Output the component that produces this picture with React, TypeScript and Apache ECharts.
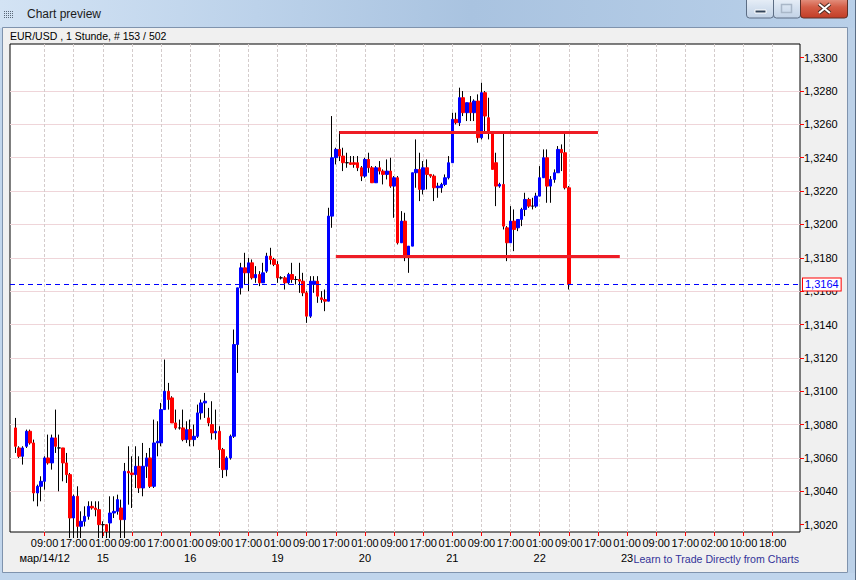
import React, { useEffect, useRef } from "react";
import * as echarts from "echarts";

// ---------- data (EUR/USD, 1 hour candles) ----------
const OPEN = [
  1.3078, 1.3066, 1.3061, 1.3067, 1.3076, 1.3069, 1.3039, 1.3043, 1.3046, 1.306,
  1.3057, 1.3072, 1.3066, 1.3066, 1.3057, 1.305, 1.3024, 1.3037, 1.3019, 1.3022,
  1.3025, 1.3031, 1.303, 1.3029, 1.302, 1.302, 1.3021, 1.3027, 1.3028, 1.303,
  1.3023, 1.3052, 1.3051, 1.305, 1.3055, 1.3042, 1.3055, 1.306, 1.3043, 1.3069,
  1.3069, 1.3089, 1.31, 1.3096, 1.3081, 1.3078, 1.3078, 1.3071, 1.3077, 1.3071,
  1.3073, 1.3087, 1.3093, 1.3084, 1.308, 1.3075, 1.3076, 1.3065, 1.3053, 1.306,
  1.3073, 1.3128, 1.3162, 1.3174, 1.3171, 1.3177, 1.3168, 1.317, 1.3165, 1.3172,
  1.3181, 1.3179, 1.3176, 1.3168, 1.3168, 1.3165, 1.317, 1.3167, 1.3167, 1.3166,
  1.3159, 1.3145, 1.3164, 1.3166, 1.3156, 1.3155, 1.3154, 1.3205, 1.324, 1.3245,
  1.3241, 1.3237, 1.3237, 1.3237, 1.3237, 1.3234, 1.3229, 1.3239, 1.3234, 1.3225,
  1.3234, 1.3232, 1.323, 1.3232, 1.3223, 1.3228, 1.3189, 1.3202, 1.3181, 1.3187,
  1.3231, 1.3233, 1.3221, 1.3234, 1.323, 1.3229, 1.3222, 1.3222, 1.3224, 1.3228,
  1.3237, 1.3263, 1.3261, 1.3276, 1.3267, 1.3273, 1.3267, 1.3274, 1.3252, 1.3279,
  1.3264, 1.3255, 1.3237, 1.3223, 1.3224, 1.3198, 1.3189, 1.3202, 1.3198, 1.3203,
  1.3209, 1.3215, 1.3211, 1.3211, 1.3217, 1.3228, 1.324, 1.3223, 1.3227, 1.3231,
  1.3245, 1.3243, 1.3222,
];
const CLOSE = [
  1.3067, 1.3061, 1.3066, 1.3076, 1.3069, 1.3039, 1.3043, 1.3046, 1.306, 1.3057,
  1.3072, 1.3067, 1.3066, 1.3057, 1.305, 1.3024, 1.3037, 1.3019, 1.3022, 1.3025,
  1.3031, 1.303, 1.3029, 1.302, 1.302, 1.3016, 1.3027, 1.3028, 1.3035, 1.3023,
  1.3052, 1.3051, 1.305, 1.3055, 1.3042, 1.3055, 1.306, 1.3043, 1.3069, 1.307,
  1.3089, 1.31, 1.3095, 1.3081, 1.3078, 1.3078, 1.3071, 1.3077, 1.3071, 1.3073,
  1.3087, 1.3093, 1.3094, 1.3081, 1.3075, 1.3076, 1.3065, 1.3053, 1.306, 1.3073,
  1.3128, 1.3162, 1.3174, 1.3171, 1.3177, 1.3168, 1.317, 1.3165, 1.3171, 1.3181,
  1.3179, 1.3176, 1.3168, 1.3168, 1.3165, 1.317, 1.3167, 1.3167, 1.3166, 1.3159,
  1.3145, 1.3166, 1.3166, 1.3157, 1.3155, 1.3154, 1.3205, 1.324, 1.3245, 1.3241,
  1.3237, 1.3237, 1.3236, 1.3236, 1.3234, 1.3229, 1.3239, 1.3234, 1.3225, 1.3234,
  1.3232, 1.323, 1.3232, 1.3223, 1.3228, 1.3189, 1.3202, 1.3181, 1.3187, 1.3231,
  1.3233, 1.3221, 1.3234, 1.323, 1.3229, 1.3222, 1.3223, 1.3224, 1.3228, 1.3237,
  1.3263, 1.3261, 1.3276, 1.3267, 1.3273, 1.3267, 1.3274, 1.3252, 1.3279, 1.3265,
  1.3255, 1.3233, 1.3223, 1.3224, 1.3199, 1.3189, 1.3202, 1.3197, 1.3203, 1.3209,
  1.3215, 1.3211, 1.3211, 1.3217, 1.3228, 1.324, 1.3223, 1.3227, 1.3231, 1.3245,
  1.3243, 1.3222, 1.3164,
];
const LOW = [
  1.3063, 1.306, 1.3056, 1.3066, 1.3068, 1.3034, 1.3031, 1.3034, 1.3041, 1.3056,
  1.3053, 1.3063, 1.304, 1.3046, 1.3045, 1.3012, 1.3012, 1.3012, 1.3012, 1.3019,
  1.3023, 1.3029, 1.3025, 1.3012, 1.3012, 1.3012, 1.3012, 1.3024, 1.3026, 1.3012,
  1.3012, 1.3032, 1.303, 1.3042, 1.3039, 1.3037, 1.3048, 1.3042, 1.3042, 1.3061,
  1.3067, 1.3089, 1.3089, 1.3081, 1.3077, 1.3077, 1.307, 1.3069, 1.3067, 1.3067,
  1.3072, 1.3083, 1.3084, 1.3079, 1.3071, 1.3071, 1.3054, 1.3048, 1.3049, 1.3059,
  1.3072, 1.3111, 1.3158, 1.3164, 1.316, 1.3167, 1.3165, 1.3163, 1.3165, 1.3171,
  1.3176, 1.3175, 1.3165, 1.3167, 1.3161, 1.3164, 1.3165, 1.3164, 1.3159, 1.3157,
  1.3141, 1.3144, 1.3159, 1.3153, 1.3153, 1.3148, 1.3154, 1.3198, 1.3236, 1.3238,
  1.3232, 1.3234, 1.3236, 1.3234, 1.3232, 1.3226, 1.3228, 1.3231, 1.3225, 1.3225,
  1.323, 1.3224, 1.3227, 1.3222, 1.3204, 1.3188, 1.3189, 1.3178, 1.3171, 1.3187,
  1.3222, 1.3214, 1.3218, 1.3221, 1.3228, 1.3214, 1.3216, 1.3219, 1.3223, 1.3227,
  1.3237, 1.326, 1.3259, 1.3265, 1.3262, 1.3262, 1.3262, 1.3249, 1.3251, 1.3256,
  1.3251, 1.3233, 1.3211, 1.3222, 1.3197, 1.3178, 1.3189, 1.3184, 1.3196, 1.3199,
  1.3205, 1.321, 1.3209, 1.321, 1.3217, 1.3228, 1.3213, 1.3213, 1.3225, 1.3231,
  1.3232, 1.3221, 1.3161,
];
const HIGH = [
  1.3084, 1.3067, 1.3067, 1.3077, 1.3077, 1.3071, 1.3044, 1.3049, 1.3061, 1.3074,
  1.3074, 1.3089, 1.3074, 1.3066, 1.3063, 1.3051, 1.3038, 1.3043, 1.3028, 1.3031,
  1.3034, 1.3034, 1.3034, 1.3034, 1.3022, 1.302, 1.3037, 1.3037, 1.3038, 1.3035,
  1.3057, 1.3067, 1.3061, 1.3067, 1.3061, 1.3069, 1.3063, 1.3066, 1.3083, 1.3082,
  1.3093, 1.3119, 1.3105, 1.3097, 1.3089, 1.3083, 1.3089, 1.3082, 1.3083, 1.308,
  1.3092, 1.3095, 1.3099, 1.309, 1.3094, 1.3089, 1.3079, 1.3066, 1.3061, 1.3074,
  1.3137, 1.3162, 1.3177, 1.3183, 1.318, 1.3179, 1.3175, 1.3172, 1.3177, 1.3183,
  1.3186, 1.318, 1.3178, 1.3169, 1.3169, 1.3171, 1.3177, 1.3169, 1.3177, 1.3171,
  1.316, 1.3169, 1.3169, 1.3169, 1.316, 1.3161, 1.321, 1.3265, 1.3246, 1.3256,
  1.3246, 1.3243, 1.3241, 1.3241, 1.3241, 1.3235, 1.324, 1.3243, 1.3235, 1.3235,
  1.3238, 1.3233, 1.3239, 1.324, 1.3229, 1.3229, 1.3208, 1.3207, 1.3187, 1.3231,
  1.3251, 1.3243, 1.3238, 1.3239, 1.323, 1.323, 1.3225, 1.3225, 1.323, 1.3241,
  1.3267, 1.3267, 1.3282, 1.328, 1.3273, 1.3277, 1.3275, 1.3278, 1.3285, 1.328,
  1.3276, 1.3256, 1.3243, 1.3225, 1.3255, 1.3199, 1.3211, 1.3209, 1.3203, 1.321,
  1.3219, 1.3216, 1.3216, 1.3219, 1.3235, 1.3245, 1.3245, 1.3229, 1.3233, 1.3247,
  1.3248, 1.3255, 1.3223,
];

// x axis tick labels (every 8 hourly bars) and the date shown under some of them
const TIME_TICKS = [
  "09:00", "17:00", "01:00", "09:00", "17:00", "01:00", "09:00", "17:00", "01:00",
  "09:00", "17:00", "01:00", "09:00", "17:00", "01:00", "09:00", "17:00", "01:00",
  "09:00", "17:00", "01:00", "09:00", "17:00", "02:00", "10:00", "18:00",
];
const DATE_TICKS = [
  "мар/14/12", "", "15", "", "", "16", "", "", "19", "", "", "20", "", "", "21",
  "", "", "22", "", "", "23", "", "", "", "", "",
];
const Y_TICKS = [
  1.302, 1.304, 1.306, 1.308, 1.31, 1.312, 1.314, 1.316, 1.318, 1.32, 1.322,
  1.324, 1.326, 1.328, 1.33,
];
const LAST_PRICE = 1.3164;
const RESISTANCE = 1.32555;
const SUPPORT = 1.3181;
// bar indices (0 = first bar) where the drawn lines start / end
const RESISTANCE_BARS = [89, 160];
const SUPPORT_BARS = [88, 166];

// ---------- layout ----------
const FONT = '"Liberation Sans", Arial, sans-serif';
const LEAD = 1; // one empty slot before the first bar
const SLOT_COUNT = 217;
const FIRST_TICK = 9;
const TICK_STEP = 8;
const Y_MIN = 1.30156;
const Y_MAX = 1.33082;

const CATEGORIES = Array.from({ length: SLOT_COUNT }, (_, k) => String(k));
const TICK_SLOTS = TIME_TICKS.map((_, j) => FIRST_TICK + j * TICK_STEP);
const tickIndex = (idx: number) =>
  idx >= FIRST_TICK && (idx - FIRST_TICK) % TICK_STEP === 0
    ? (idx - FIRST_TICK) / TICK_STEP
    : -1;
const isTickSlot = (idx: number) => tickIndex(idx) >= 0;
const isDateSlot = (idx: number) => {
  const j = tickIndex(idx);
  return j >= 0 && !!DATE_TICKS[j];
};

const fmtPrice = (v: number) => v.toFixed(4).replace(".", ",");

export default function App() {
  const ref = useRef<HTMLDivElement>(null);

  useEffect(() => {
    document.body.style.margin = "0";
    const chart = echarts.init(ref.current!, null, {
      renderer: "svg",
      width: 856,
      height: 580,
    });

    const wickData = OPEN.map((o, i) => [i + LEAD, o, CLOSE[i], LOW[i], HIGH[i]]);
    const bodyData = OPEN.map((o, i) => {
      const c = CLOSE[i];
      const value = [i + LEAD, o, c, Math.min(o, c), Math.max(o, c)];
      if (Math.abs(o - c) < 0.00005) {
        return {
          value,
          itemStyle: {
            color: "#000",
            color0: "#000",
            borderColor: "#000",
            borderColor0: "#000",
          },
        };
      }
      return value;
    });

    const grad = (x2: number, y2: number, stops: [number, string][]) =>
      new echarts.graphic.LinearGradient(
        0,
        0,
        x2,
        y2,
        stops.map(([offset, color]) => ({ offset, color }))
      );

    const iconDots: any[] = [];
    for (let i = 0; i < 5; i++) {
      for (let j = 0; j < 4; j++) {
        iconDots.push({
          type: "rect",
          silent: true,
          shape: { x: 4 + i * 2, y: 11 + j * 2, width: 1, height: 1 },
          style: { fill: "#5a6878" },
        });
      }
    }

    const btnFill = () =>
      grad(0, 1, [
        [0, "#eef3fa"],
        [0.5, "#d6e2f0"],
        [1, "#c2d2e6"],
      ]);

    const graphic: any[] = [
      // title bar
      {
        type: "rect",
        silent: true,
        shape: { x: 0, y: 0, width: 856, height: 28 },
        style: {
          fill: grad(1, 0, [
            [0, "#d3e3f4"],
            [0.3, "#bcd2ea"],
            [0.55, "#a9c3e0"],
            [1, "#b9d0e9"],
          ]),
        },
      },
      // side and bottom frame
      {
        type: "rect",
        silent: true,
        shape: { x: 0, y: 28, width: 3, height: 552 },
        style: { fill: "#c2d6ec" },
      },
      {
        type: "rect",
        silent: true,
        shape: { x: 848, y: 28, width: 8, height: 552 },
        style: { fill: "#bcd1e8" },
      },
      {
        type: "rect",
        silent: true,
        shape: { x: 0, y: 573, width: 856, height: 7 },
        style: { fill: "#c0d5ec" },
      },
      {
        type: "rect",
        silent: true,
        shape: { x: 2.5, y: 27.5, width: 845, height: 545 },
        style: { fill: "none", stroke: "#7f93ad", lineWidth: 1 },
      },
      {
        type: "line",
        silent: true,
        shape: { x1: 855.5, y1: 0, x2: 855.5, y2: 580 },
        style: { stroke: "#5b6e86", lineWidth: 1 },
      },
      ...iconDots,
      {
        type: "text",
        silent: true,
        style: {
          text: "Chart preview",
          x: 27,
          y: 14,
          fill: "#1b1b1b",
          font: `12px ${FONT}`,
          textVerticalAlign: "middle",
        },
      },
      // window buttons
      {
        type: "rect",
        silent: true,
        shape: { x: 746.5, y: -4, width: 27, height: 22, r: 3 },
        style: { fill: btnFill(), stroke: "#5c6d84", lineWidth: 1 },
      },
      {
        type: "rect",
        silent: true,
        shape: { x: 755, y: 10, width: 11, height: 3 },
        style: { fill: "#33445a", stroke: "#ffffff", lineWidth: 1 },
      },
      {
        type: "rect",
        silent: true,
        shape: { x: 773.5, y: -4, width: 27, height: 22, r: 3 },
        style: { fill: btnFill(), stroke: "#5c6d84", lineWidth: 1 },
      },
      {
        type: "rect",
        silent: true,
        shape: { x: 781.5, y: 4.5, width: 10, height: 8 },
        style: { fill: "none", stroke: "#a9b7c8", lineWidth: 1.5 },
      },
      {
        type: "rect",
        silent: true,
        shape: { x: 800.5, y: -4, width: 47, height: 22, r: 3 },
        style: {
          fill: grad(0, 1, [
            [0, "#eaa797"],
            [0.5, "#d45e47"],
            [1, "#c23d26"],
          ]),
          stroke: "#5e3128",
          lineWidth: 1,
        },
      },
      {
        type: "line",
        silent: true,
        shape: { x1: 819, y1: 4, x2: 830, y2: 13 },
        style: { stroke: "#4a2a22", lineWidth: 4 },
      },
      {
        type: "line",
        silent: true,
        shape: { x1: 830, y1: 4, x2: 819, y2: 13 },
        style: { stroke: "#4a2a22", lineWidth: 4 },
      },
      {
        type: "line",
        silent: true,
        shape: { x1: 819, y1: 4, x2: 830, y2: 13 },
        style: { stroke: "#ffffff", lineWidth: 2 },
      },
      {
        type: "line",
        silent: true,
        shape: { x1: 830, y1: 4, x2: 819, y2: 13 },
        style: { stroke: "#ffffff", lineWidth: 2 },
      },
      // chart header and link
      {
        type: "text",
        silent: true,
        style: {
          text: "EUR/USD , 1 Stunde, # 153 / 502",
          x: 10,
          y: 36,
          fill: "#000",
          font: `10.5px ${FONT}`,
          textVerticalAlign: "middle",
        },
      },
      {
        type: "text",
        silent: true,
        style: {
          text: "Learn to Trade Directly from Charts",
          x: 799,
          y: 559,
          fill: "#333399",
          font: `10.6px ${FONT}`,
          textAlign: "right",
          textVerticalAlign: "middle",
        },
      },
    ];

    const labelFont = { color: "#000", fontSize: 11, fontFamily: FONT };

    const option: any = {
      animation: false,
      backgroundColor: "#f0f0f0",
      textStyle: { fontFamily: FONT },
      graphic,
      grid: {
        left: 10,
        top: 44,
        width: 790,
        height: 488,
        show: true,
        backgroundColor: "#ffffff",
        borderColor: "#000000",
        borderWidth: 1,
      },
      xAxis: [
        {
          // time row
          type: "category",
          data: CATEGORIES,
          position: "bottom",
          boundaryGap: true,
          axisLine: { show: false },
          axisTick: {
            show: true,
            interval: (idx: number) => isTickSlot(idx),
            alignWithLabel: true,
            length: 4,
            lineStyle: { color: "#ff0000", width: 1 },
          },
          axisLabel: {
            interval: (idx: number) => isTickSlot(idx),
            showMinLabel: true,
            showMaxLabel: true,
            hideOverlap: false,
            formatter: (_v: string, idx: number) => TIME_TICKS[tickIndex(idx)] ?? "",
            margin: 5,
            ...labelFont,
          },
          splitLine: { show: false },
        },
        {
          // date row
          type: "category",
          data: CATEGORIES,
          position: "bottom",
          offset: 0,
          boundaryGap: true,
          axisLine: { show: false },
          axisTick: { show: false },
          axisLabel: {
            interval: (idx: number) => isDateSlot(idx),
            showMinLabel: true,
            showMaxLabel: true,
            hideOverlap: false,
            formatter: (_v: string, idx: number) => DATE_TICKS[tickIndex(idx)] ?? "",
            margin: 20,
            ...labelFont,
          },
          splitLine: { show: false },
        },
      ],
      yAxis: {
        type: "value",
        position: "right",
        min: Y_MIN,
        max: Y_MAX,
        splitNumber: 15,
        axisLine: { show: false },
        axisTick: {
          show: true,
          length: 4,
          customValues: Y_TICKS,
          lineStyle: { color: "#ff0000", width: 1 },
        },
        axisLabel: {
          customValues: Y_TICKS,
          formatter: (v: number) => fmtPrice(v),
          margin: 4,
          ...labelFont,
        },
        splitLine: {
          show: true,
          showMinLine: false,
          showMaxLine: false,
          lineStyle: { color: "#efd5d9", width: 1 },
        },
      },
      series: [
        {
          // vertical grid lines at the time ticks
          type: "line",
          data: [],
          silent: true,
          markLine: {
            silent: true,
            z: 1,
            symbol: "none",
            label: { show: false },
            lineStyle: { color: "#d4cccc", type: [3, 2], width: 1 },
            data: TICK_SLOTS.map((k) => ({ xAxis: k })),
          },
        },
        {
          type: "candlestick",
          name: "wick",
          z: 2,
          silent: true,
          barWidth: 1,
          encode: { x: 0, y: [1, 2, 3, 4] },
          data: wickData,
          itemStyle: {
            color: "#000",
            color0: "#000",
            borderColor: "#000",
            borderColor0: "#000",
            borderWidth: 1,
          },
        },
        {
          type: "candlestick",
          name: "body",
          z: 3,
          silent: true,
          barWidth: 3,
          encode: { x: 0, y: [1, 2, 3, 4] },
          data: bodyData,
          itemStyle: {
            color: "#0000ff",
            color0: "#ff0000",
            borderColor: "#0000ff",
            borderColor0: "#ff0000",
            borderWidth: 1,
          },
          markLine: {
            silent: true,
            z: 5,
            symbol: "none",
            precision: 5,
            label: { show: false },
            lineStyle: { color: "#ee1c25", type: "solid", width: 3 },
            data: [
              [
                { coord: [RESISTANCE_BARS[0] + LEAD, RESISTANCE] },
                { coord: [RESISTANCE_BARS[1] + LEAD, RESISTANCE] },
              ],
              [
                { coord: [SUPPORT_BARS[0] + LEAD, SUPPORT] },
                { coord: [SUPPORT_BARS[1] + LEAD, SUPPORT] },
              ],
            ],
          },
        },
        {
          // last price line with its label on the price axis
          type: "line",
          data: [],
          silent: true,
          color: "#0000ff",
          markLine: {
            silent: true,
            z: 6,
            symbol: "none",
            precision: 5,
            lineStyle: { color: "#0000ff", type: [5, 4], width: 1, opacity: 1 },
            label: {
              show: true,
              position: "end",
              distance: 3,
              formatter: () => fmtPrice(LAST_PRICE),
              color: "#0000ff",
              fontSize: 11,
              fontFamily: FONT,
              backgroundColor: "#ffffff",
              borderColor: "#ff0000",
              borderWidth: 1,
              padding: [1, 2, 0, 2],
            },
            data: [{ yAxis: LAST_PRICE }],
          },
        },
      ],
    };

    chart.setOption(option);
    return () => chart.dispose();
  }, []);

  return (
    <div
      ref={ref}
      style={{ position: "absolute", left: 0, top: 0, width: 856, height: 580 }}
    />
  );
}
